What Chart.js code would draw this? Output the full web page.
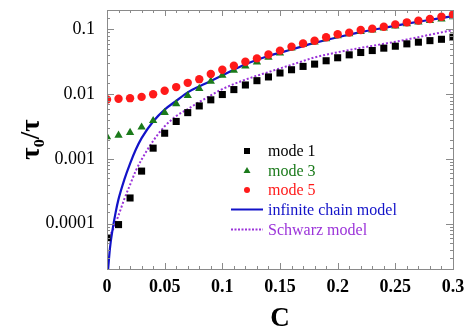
<!DOCTYPE html>
<html>
<head>
<meta charset="utf-8">
<script src="https://cdn.jsdelivr.net/npm/chart.js@4.4.1/dist/chart.umd.min.js"></script>
<style>
  html, body { margin: 0; padding: 0; background: #ffffff; }
  #wrap { width: 473px; height: 330px; position: relative; }
</style>
</head>
<body>
<div id="wrap"><canvas id="c" width="473" height="330"></canvas></div>
<script>
// ---- data ----
const cValues = [0, 0.01, 0.02, 0.03, 0.04, 0.05, 0.06, 0.07, 0.08, 0.09, 0.10,
                 0.11, 0.12, 0.13, 0.14, 0.15, 0.16, 0.17, 0.18, 0.19, 0.20,
                 0.21, 0.22, 0.23, 0.24, 0.25, 0.26, 0.27, 0.28, 0.29, 0.30];
const mode1 = [6.1e-5, 9.7e-5, 2.5e-4, 6.5e-4, 0.00147, 0.0025, 0.0038, 0.0052, 0.0066, 0.0082, 0.0099,
               0.0118, 0.0139, 0.0162, 0.0185, 0.0213, 0.0239, 0.0269, 0.0292, 0.0329, 0.0366,
               0.0406, 0.0441, 0.0473, 0.0515, 0.0552, 0.060, 0.0637, 0.0673, 0.0706, 0.0759];
const mode3 = [0.0022, 0.00232, 0.00256, 0.0031, 0.0039, 0.0052, 0.0071, 0.0095, 0.0122, 0.0158, 0.0196,
               0.0234, 0.0273, 0.0314, 0.037, 0.043, 0.0515, 0.059, 0.0636, 0.0715, 0.0795,
               0.086, 0.093, 0.098, 0.105, 0.113, 0.122, 0.130, 0.137, 0.145, 0.157];
const mode5 = [0.0083, 0.0085, 0.0087, 0.0091, 0.0100, 0.0113, 0.0129, 0.0150, 0.0171, 0.0206, 0.0239,
               0.0276, 0.0318, 0.0358, 0.0412, 0.0472, 0.0543, 0.0608, 0.0671, 0.076, 0.0844,
               0.0894, 0.098, 0.103, 0.110, 0.120, 0.129, 0.137, 0.145, 0.157, 0.171];
const chainC    = [0.001, 0.0025, 0.005, 0.0075, 0.01, 0.015, 0.02, 0.025, 0.03, 0.04, 0.05, 0.06, 0.07,
                   0.08, 0.09, 0.10, 0.12, 0.14, 0.16, 0.18, 0.20, 0.22, 0.24, 0.26, 0.28, 0.30];
const chainVals = [2.0e-5, 4.1e-5, 8.5e-5, 1.5e-4, 2.4e-4, 4.8e-4, 8.5e-4, 1.4e-3, 2.1e-3, 3.8e-3, 5.8e-3, 7.9e-3, 1.07e-2,
                   1.32e-2, 1.6e-2, 1.95e-2, 0.029, 0.039, 0.049, 0.062, 0.076, 0.091, 0.106, 0.123, 0.141, 0.161];
const schwarzC    = [0, 0.005, 0.01, 0.015, 0.02, 0.025, 0.03, 0.04, 0.05, 0.06, 0.07, 0.08, 0.09,
                     0.10, 0.12, 0.14, 0.16, 0.18, 0.20, 0.22, 0.24, 0.26, 0.28, 0.30];
const schwarzVals = [5.5e-5, 8.0e-5, 1.35e-4, 2.4e-4, 4.0e-4, 6.6e-4, 9.8e-4, 1.9e-3, 3.2e-3, 4.6e-3, 5.9e-3, 7.6e-3, 9.6e-3,
                     0.0120, 0.0168, 0.0220, 0.0285, 0.037, 0.0445, 0.052, 0.060, 0.070, 0.083, 0.098];
const xTickLabels = ['0', '0.05', '0.1', '0.15', '0.2', '0.25', '0.3'];
const yTickLabels = ['0.0001', '0.001', '0.01', '0.1'];
const legendLabels = ['mode 1', 'mode 3', 'mode 5', 'infinite chain model', 'Schwarz model'];

const COL_BLACK = '#000000', COL_GREEN = '#1b7a1b', COL_RED = '#ff1a1a', COL_BLUE = '#1212c8', COL_PURPLE = '#9b33d9';
const SERIF = '"Liberation Serif", "Times New Roman", "DejaVu Serif", serif';

const pts = (xs, ys) => xs.map((x, i) => ({ x: x, y: ys[i] }));
const isDecade = v => Math.abs(Math.log10(v) - Math.round(Math.log10(v))) < 1e-6;
const isMajorX = v => Math.abs(v / 0.05 - Math.round(v / 0.05)) < 1e-6;

const framePlugin = {
  id: 'frame',
  afterDatasetsDraw(chart) {
    const { ctx, chartArea: a } = chart;
    const xs = chart.scales.x, ys = chart.scales.y;
    ctx.save();
    ctx.strokeStyle = '#8a8a8a';
    ctx.lineWidth = 1;
    ctx.strokeRect(Math.round(a.left) + 0.5, Math.round(a.top) + 0.5,
                   Math.round(a.right - a.left), Math.round(a.bottom - a.top));
    ctx.beginPath();
    xs.ticks.forEach(t => {
      const px = Math.round(xs.getPixelForValue(t.value)) + 0.5;
      const len = isMajorX(t.value) ? 6 : 3;
      ctx.moveTo(px, a.bottom); ctx.lineTo(px, a.bottom - len);
      ctx.moveTo(px, a.top); ctx.lineTo(px, a.top + len);
    });
    ys.ticks.forEach(t => {
      const py = Math.round(ys.getPixelForValue(t.value)) + 0.5;
      if (py < a.top || py > a.bottom) return;
      const len = isDecade(t.value) ? 7 : 3;
      ctx.moveTo(a.left, py); ctx.lineTo(a.left + len, py);
      ctx.moveTo(a.right, py); ctx.lineTo(a.right - len, py);
    });
    ctx.stroke();
    ctx.restore();
  }
};

const legendPlugin = {
  id: 'innerLegend',
  afterDraw(chart) {
    const ctx = chart.ctx;
    const textX = 268, markX = 247, lineX0 = 231, lineX1 = 263;
    const rows = [151, 170.5, 190, 209.5, 229.5];
    const colors = [COL_BLACK, COL_GREEN, COL_RED, COL_BLUE, COL_PURPLE];
    ctx.save();
    ctx.font = '16px ' + SERIF;
    ctx.textBaseline = 'middle';
    ctx.textAlign = 'left';
    rows.forEach((y, i) => {
      ctx.fillStyle = colors[i];
      ctx.strokeStyle = colors[i];
      if (i === 0) {
        ctx.fillRect(markX - 3, y - 3, 6, 6);
      } else if (i === 1) {
        ctx.beginPath();
        ctx.moveTo(markX, y - 3.5); ctx.lineTo(markX + 3.5, y + 2.5); ctx.lineTo(markX - 3.5, y + 2.5);
        ctx.closePath(); ctx.fill();
      } else if (i === 2) {
        ctx.beginPath(); ctx.arc(markX, y, 3, 0, Math.PI * 2); ctx.fill();
      } else {
        ctx.lineWidth = 2;
        ctx.setLineDash(i === 4 ? [2, 1.5] : []);
        ctx.beginPath(); ctx.moveTo(lineX0, y); ctx.lineTo(lineX1, y); ctx.stroke();
        ctx.setLineDash([]);
      }
      ctx.fillText(legendLabels[i], textX, y + 1);
    });
    ctx.restore();
  }
};

new Chart(document.getElementById('c'), {
  type: 'scatter',
  data: {
    datasets: [
      { label: legendLabels[2], data: pts(cValues, mode5), order: 0, pointStyle: 'circle', pointRadius: 4.2,
        backgroundColor: COL_RED, borderColor: COL_RED, borderWidth: 0 },
      { label: legendLabels[0], data: pts(cValues, mode1), order: 1, pointStyle: 'rect', pointRadius: 5,
        backgroundColor: COL_BLACK, borderColor: COL_BLACK, borderWidth: 0 },
      { label: legendLabels[1], data: pts(cValues, mode3), order: 2, pointStyle: 'triangle', pointRadius: 4.8,
        backgroundColor: COL_GREEN, borderColor: COL_GREEN, borderWidth: 0 },
      { label: legendLabels[3], data: pts(chainC, chainVals), order: 3, showLine: true, pointRadius: 0,
        borderColor: COL_BLUE, borderWidth: 2.2, cubicInterpolationMode: 'monotone', fill: false },
      { label: legendLabels[4], data: pts(schwarzC, schwarzVals), order: 4, showLine: true, pointRadius: 0,
        borderColor: COL_PURPLE, borderWidth: 2, borderDash: [2, 2], cubicInterpolationMode: 'monotone', fill: false }
    ]
  },
  options: {
    responsive: false,
    animation: false,
    events: [],
    layout: { padding: { left: 0, right: 20, top: 10, bottom: 0 } },
    plugins: { legend: { display: false }, tooltip: { enabled: false } },
    scales: {
      x: {
        type: 'linear', min: 0, max: 0.3,
        grid: { display: false, drawTicks: false },
        border: { display: false },
        afterFit: s => { s.height = 61; s.paddingLeft = 0; s.paddingRight = 0; },
        ticks: {
          stepSize: 0.01, autoSkip: false, maxRotation: 0, padding: 8,
          color: '#000', font: { family: SERIF, size: 18, weight: 'bold' },
          callback: v => isMajorX(v) ? xTickLabels[Math.round(v / 0.05)] : ''
        },
        title: { display: true, text: 'C', color: '#000', padding: { top: 0, bottom: 0 },
                 font: { family: SERIF, size: 27, weight: 'bold', lineHeight: 0.8 } }
      },
      y: {
        type: 'logarithmic', min: 2e-5, max: 0.2,
        grid: { display: false, drawTicks: false },
        border: { display: false },
        afterFit: s => { s.width = 107; s.paddingTop = 0; s.paddingBottom = 0; },
        ticks: {
          autoSkip: false, padding: 12,
          color: '#000', font: { family: SERIF, size: 18 },
          callback: v => {
            if (!isDecade(v)) return '';
            const k = Math.round(Math.log10(v)) + 4;
            return (k >= 0 && k < yTickLabels.length) ? yTickLabels[k] : '';
          }
        },
        title: { display: true, text: 'τ₀/τ', color: '#000', padding: { top: 16, bottom: 0 },
                 font: { family: SERIF, size: 27, weight: 'bold', lineHeight: 1.2 } }
      }
    }
  },
  plugins: [framePlugin, legendPlugin]
});
</script>
</body>
</html>
